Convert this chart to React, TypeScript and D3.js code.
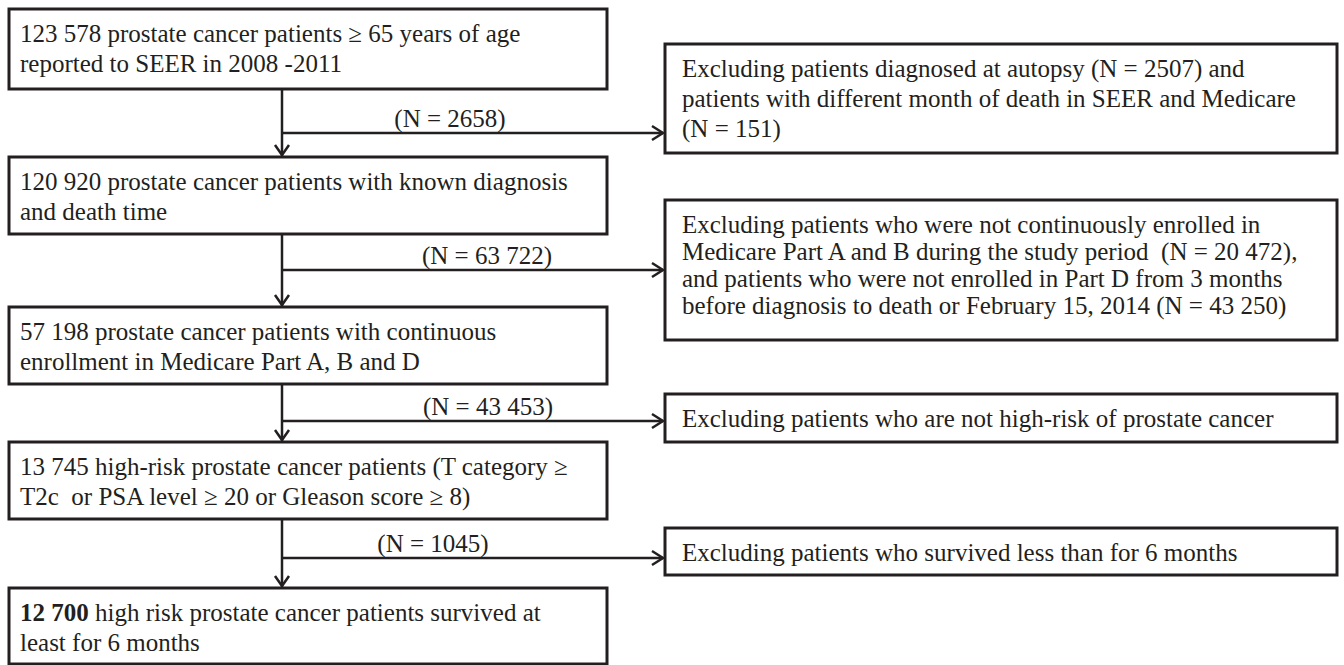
import React, { useRef, useEffect } from "react";
import { select, line } from "d3";

// flowchart content
const stepLines = [
  ["123 578 prostate cancer patients ≥ 65 years of age", "reported to SEER in 2008 -2011"],
  ["120 920 prostate cancer patients with known diagnosis", "and death time"],
  ["57 198 prostate cancer patients with continuous", "enrollment in Medicare Part A, B and D"],
  ["13 745 high-risk prostate cancer patients (T category ≥", "T2c  or PSA level ≥ 20 or Gleason score ≥ 8)"],
  ["12 700| high risk prostate cancer patients survived at", "least for 6 months"],
];

const excludedCounts = ["(N = 2658)", "(N = 63 722)", "(N = 43 453)", "(N = 1045)"];

const exclusionLines = [
  [
    "Excluding patients diagnosed at autopsy (N = 2507) and",
    "patients with different month of death in SEER and Medicare",
    "(N = 151)",
  ],
  [
    "Excluding patients who were not continuously enrolled in",
    "Medicare Part A and B during the study period  (N = 20 472),",
    "and patients who were not enrolled in Part D from 3 months",
    "before diagnosis to death or February 15, 2014 (N = 43 250)",
  ],
  ["Excluding patients who are not high-risk of prostate cancer"],
  ["Excluding patients who survived less than for 6 months"],
];

// layout
const W = 1344;
const H = 665;
const spineX = 282;
const stepLeft = 9;
const stepRight = 607;
const stepTops = [9, 157, 307, 442, 588];
const stepBottoms = [89, 234, 384, 519, 664];
const stepGap = 29.5;
const branchYs = [133, 270, 421, 558];
const countXs = [450, 487, 488, 433];
const exLeft = 665;
const exRight = 1337;
const exTops = [44, 200, 394, 528];
const exBottoms = [153, 340, 442, 575];
const exGaps = [30, 27, 30, 30];

const INK = "#231f20";
const FONT = "'Liberation Serif', 'Times New Roman', serif";
const fontSize = 25;

const App = () => {
  const ref = useRef<SVGSVGElement>(null);

  useEffect(() => {
    const svg = select(ref.current);
    svg.selectAll("*").remove();
    const path = line<[number, number]>();

    const drawBox = (x0: number, y0: number, x1: number, y1: number) =>
      svg
        .append("rect")
        .attr("x", x0)
        .attr("y", y0)
        .attr("width", x1 - x0)
        .attr("height", y1 - y0)
        .style("fill", "#fff")
        .style("stroke", INK)
        .style("stroke-width", 3);

    const drawLines = (lines: string[], x: number, top: number, gap: number) => {
      const text = svg
        .append("text")
        .attr("x", x)
        .attr("y", top + 33)
        .style("font-family", FONT)
        .style("font-size", fontSize)
        .style("white-space", "pre")
        .style("fill", INK);
      lines.forEach((l, i) => {
        const ts = text
          .append("tspan")
          .attr("x", x)
          .attr("dy", i === 0 ? 0 : gap);
        const parts = l.split("|");
        if (parts.length > 1) {
          ts.append("tspan").style("font-weight", "bold").text(parts[0]);
          ts.append("tspan").text(parts[1]);
        } else {
          ts.text(l);
        }
      });
    };

    const stroke = (pts: [number, number][]) =>
      svg
        .append("path")
        .attr("d", path(pts))
        .style("stroke", INK)
        .style("stroke-width", 2.5)
        .style("fill", "none");

    // downward connectors between steps
    stepTops.slice(1).forEach((top, i) => {
      stroke([[spineX, stepBottoms[i]], [spineX, top - 1]]);
      stroke([[spineX - 7, top - 12], [spineX, top - 2], [spineX + 7, top - 12]]);
    });

    // exclusion branches
    branchYs.forEach((y, i) => {
      stroke([[spineX, y], [exLeft - 2, y]]);
      stroke([[exLeft - 13, y - 7], [exLeft - 2, y], [exLeft - 13, y + 7]]);
      svg
        .append("text")
        .attr("x", countXs[i])
        .attr("y", y - 6)
        .attr("text-anchor", "middle")
        .style("font-family", FONT)
        .style("font-size", fontSize)
        .style("fill", INK)
        .text(excludedCounts[i]);
    });

    stepLines.forEach((lines, i) => {
      drawBox(stepLeft, stepTops[i], stepRight, stepBottoms[i]);
      drawLines(lines, stepLeft + 11, stepTops[i], stepGap);
    });

    exclusionLines.forEach((lines, i) => {
      drawBox(exLeft, exTops[i], exRight, exBottoms[i]);
      drawLines(lines, exLeft + 17, exTops[i], exGaps[i]);
    });
  }, []);

  return (
    <svg
      ref={ref}
      width={W}
      height={H}
      style={{ position: "fixed", left: 0, top: 0, background: "#fff" }}
    />
  );
};

export default App;
